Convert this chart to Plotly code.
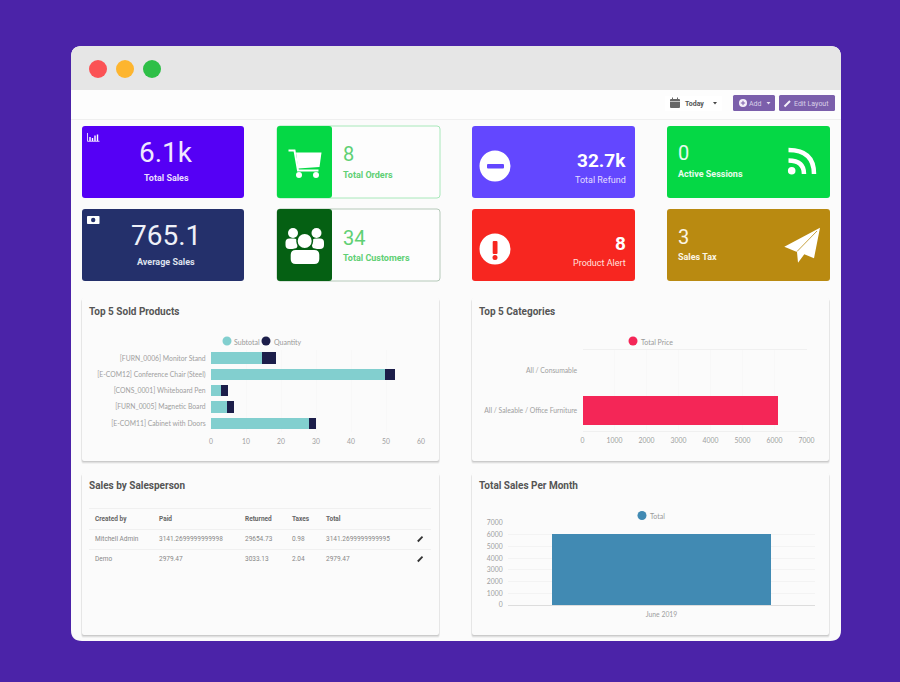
import plotly.graph_objects as go

# chart data
product_names = ["[FURN_0006] Monitor Stand", "[E-COM12] Conference Chair (Steel)", "[CONS_0001] Whiteboard Pen",
                 "[FURN_0005] Magnetic Board", "[E-COM11] Cabinet with Doors"]
product_subtotal = [14.7, 49.6, 2.8, 4.7, 28]
product_quantity = [4, 3, 2, 2, 2]
category_names = ["All / Consumable", "All / Saleable / Office Furniture"]
category_totals = [0, 6120]
month_names = ["June 2019"]
month_totals = [6090]

# table
table_headers = ["Created by", "Paid", "Returned", "Taxes", "Total"]
table_row_1 = ["Mitchell Admin", "3141.2699999999998", "29654.73", "0.98", "3141.2699999999995"]
table_row_2 = ["Demo", "2979.47", "3033.13", "2.04", "2979.47"]
table_cols = [95, 159, 245, 292, 326]

W, H = 900, 682
shapes = []
notes = []


def rrect(x0, y0, x1, y1, r=3):
    return (f"M {x0+r} {y0} L {x1-r} {y0} Q {x1} {y0} {x1} {y0+r} L {x1} {y1-r} Q {x1} {y1} {x1-r} {y1} "
            f"L {x0+r} {y1} Q {x0} {y1} {x0} {y1-r} L {x0} {y0+r} Q {x0} {y0} {x0+r} {y0} Z")


def path(d, fill="rgba(0,0,0,0)", line=None, width=0):
    shapes.append(dict(type="path", path=d, xref="x", yref="y", fillcolor=fill, layer="below",
                       line=dict(color=line or "rgba(0,0,0,0)", width=width)))


def circle(cx, cy, r, fill):
    shapes.append(dict(type="circle", x0=cx-r, x1=cx+r, y0=cy-r, y1=cy+r, xref="x", yref="y",
                       fillcolor=fill, line=dict(width=0), layer="below"))


def text(x, y, s, size=9, color="#fff", bold=False, anchor="left", family="Roboto"):
    # annotations keep about 2px of padding around their text
    shift = {"left": -2, "right": 2, "center": 0}[anchor]
    notes.append(dict(x=x, y=y, text=s, xref="x", yref="y", showarrow=False, xanchor=anchor, yanchor="middle",
                      xshift=shift, font=dict(size=size, color=color, family=family, weight=700 if bold else 400)))


# page and window
path(f"M 0 0 L {W} 0 L {W} {H} L 0 {H} Z", fill="#4b23a8")
path(rrect(71, 46, 841, 641, 11), fill="#fbfbfb")
path("M 71 90 L 71 57 Q 71 46 82 46 L 830 46 Q 841 46 841 57 L 841 90 Z", fill="#e6e6e6")
path("M 71 90 L 841 90 L 841 119 L 71 119 Z", fill="#fdfdfd")
path("M 71 119.5 L 841 119.5", line="#efefef", width=1)
for cx, col in zip([98, 125, 152], ["#fb5255", "#fdb52f", "#2ebf47"]):
    circle(cx, 69, 9, col)

# toolbar
path(rrect(665, 96, 722, 111, 1), fill="#ffffff")
path(rrect(670, 99, 680, 108, 1), fill="#666666")
path("M 670 101.5 L 680 101.5", line="#ffffff", width=0.6)
path("M 672.5 97.5 L 672.5 99.5 M 677.5 97.5 L 677.5 99.5", line="#666666", width=1)
text(685, 103.5, "Today", 7, "#555555", True)
path("M 713 102 L 717 102 L 715 104.5 Z", fill="#444444")
path(rrect(733, 95, 775, 111, 1.5), fill="#7b5fab")
path(rrect(779, 95, 835, 111, 1.5), fill="#7b5fab")
circle(743, 103, 4, "#f4f0fa")
path("M 740.8 103 L 745.2 103 M 743 100.8 L 743 105.2", line="#7b5fab", width=1)
text(749, 103.5, "Add", 7, "#d8cfe8")
path("M 766.5 102 L 770.5 102 L 768.5 104.5 Z", fill="#e9e2f3")
path("M 784.5 106.5 L 790 101", line="#f4f0fa", width=2)
text(794, 103.5, "Edit Layout", 7, "#d8cfe8")

# stat cards
path(rrect(82, 126, 244, 198), fill="#5500f5")
text(166, 152, "6.1k", 28, "#f0e8ff", anchor="center")
text(166, 178, "Total Sales", 9, "#eadfff", True, "center")
path("M 87.5 133 L 87.5 141.3 L 99.5 141.3", line="#ffffff", width=0.8)
path("M 90 141 L 90 137 M 92.5 141 L 92.5 138 M 95 141 L 95 135.5 M 97.5 141 L 97.5 134.5", line="#ffffff", width=1.4)

path(rrect(82, 209, 244, 281), fill="#24306b")
text(166, 235, "765.1", 28, "#eef0f8", anchor="center")
text(166, 262, "Average Sales", 9, "#dfe2ee", True, "center")
path(rrect(87, 216, 99.5, 224, 0.8), fill="#ffffff")
circle(93.2, 220, 2.2, "#24306b")

for y0, col in [(126, "#a8e8ba"), (209, "#b5c9b9")]:
    path(rrect(277, y0, 440, y0+72), fill="#fdfdfd", line=col, width=1)
path(rrect(277, 126, 332, 198), fill="#05d845")
path(rrect(277, 209, 332, 281), fill="#056013")
text(343, 154, "8", 20, "#5fd074")
text(343, 175, "Total Orders", 9, "#5fd074", True)
text(343, 238, "34", 20, "#5fd074")
text(343, 258, "Total Customers", 9, "#5fd074", True)
# cart
path("M 288.5 150.5 L 294.5 150.5 L 298 170.5 L 318.5 170.5", line="#ffffff", width=2)
path("M 296 152.5 L 321.5 152.5 L 319.5 167 L 298 168.5 Z", fill="#ffffff")
circle(299, 175, 3, "#ffffff")
circle(316, 175, 3, "#ffffff")
# customers
circle(293, 233, 5, "#ffffff")
circle(316.5, 233, 5, "#ffffff")
path(rrect(285.5, 238.5, 297.5, 249, 4), fill="#ffffff")
path(rrect(312, 238.5, 324, 249, 4), fill="#ffffff")
circle(304.7, 241, 8.5, "#056013")
circle(304.7, 241, 7, "#ffffff")
path(rrect(289, 248.5, 320.5, 265.5, 6), fill="#056013")
path(rrect(290.7, 250, 319.3, 264, 5), fill="#ffffff")

path(rrect(472, 126, 635, 198), fill="#6347ff")
circle(495, 166, 15.5, "#ffffff")
path(rrect(487, 164, 504, 168.5, 1), fill="#6347ff")
text(626, 160, "32.7k", 19, "#ffffff", True, "right")
text(626, 180, "Total Refund", 9, "#e3deff", anchor="right")

path(rrect(472, 209, 635, 281), fill="#f72620")
circle(495, 249, 15.5, "#ffffff")
path(rrect(492.7, 241, 497.5, 254, 1), fill="#f72620")
circle(495, 257.5, 2.5, "#f72620")
text(626, 243, "8", 19, "#ffffff", True, "right")
text(626, 263, "Product Alert", 9, "#ffe1df", anchor="right")

path(rrect(667, 126, 830, 198), fill="#05d845")
text(678, 153, "0", 20, "#e8fbee")
text(678, 174, "Active Sessions", 9, "#e8fbee", True)
circle(791.7, 170.7, 3.8, "#ffffff")
path("M 788.5 150 Q 814 150 814 174", line="#ffffff", width=4.5)
path("M 788.5 160.5 Q 804 160.5 804 174", line="#ffffff", width=4.5)

path(rrect(667, 209, 830, 281), fill="#b98a11")
text(678, 237, "3", 20, "#fbf5e6")
text(678, 257, "Sales Tax", 9, "#fbf5e6", True)
path("M 820 227.7 L 784.3 246.7 L 797 252 L 798 262.7 L 804.3 254.3 L 814 258.3 Z", fill="#ffffff")
path("M 817 231 L 797 251.5", line="#b98a11", width=0.8)

# panels
for x0, x1, y0, y1 in [(82, 439, 297, 461), (472, 829, 297, 461), (82, 439, 472, 635), (472, 829, 472, 635)]:
    for off, alpha in [(3, 0.04), (2, 0.07), (1, 0.09)]:
        path(rrect(x0-off/4, y0+off, x1+off/4, y1+off, 2), fill=f"rgba(0,0,0,{alpha})")
    path(rrect(x0, y0, x1, y1, 2), fill="#fbfbfb")

heading = dict(size=10, color="#555555", bold=True)
text(89, 311, "Top 5 Sold Products", **heading)
text(479, 311, "Top 5 Categories", **heading)
text(89, 485.5, "Sales by Salesperson", **heading)
text(479, 485.5, "Total Sales Per Month", **heading)

# legends
SUBTOTAL, QUANTITY, PINK, BLUE = "#82cfcf", "#1c1e4a", "#f42657", "#418ab3"
legend_font = dict(size=7, color="#999999", family="Lato")
circle(227, 341, 4.5, SUBTOTAL)
text(234, 341.5, "Subtotal", **legend_font)
circle(266, 341, 4.5, QUANTITY)
text(273.5, 341.5, "Quantity", **legend_font)
circle(633, 341, 4.5, PINK)
text(641, 341.5, "Total Price", **legend_font)
circle(642, 515.5, 4.5, BLUE)
text(649.5, 515.5, "Total", **legend_font)

# table
for y in [508.5, 529.5, 549.5]:
    path(f"M 89 {y} L 431 {y}", line="#f0f0f0", width=1)
for x, h, r1, r2 in zip(table_cols, table_headers, table_row_1, table_row_2):
    text(x, 518.5, h, 6.5, "#666666", True)
    text(x, 539, r1, 6.5, "#888888")
    text(x, 559, r2, 6.5, "#888888")
for y in [539, 559]:
    path(f"M 417.8 {y+2.5} L 422.5 {y-2.3}", line="#333333", width=1.8)

fig = go.Figure()
# full page axis used for the card shapes
fig.update_layout(xaxis=dict(domain=[0, 1], range=[0, W], visible=False, fixedrange=True),
                  yaxis=dict(domain=[0, 1], range=[H, 0], visible=False, fixedrange=True))

fig.add_trace(go.Bar(y=product_names, x=product_subtotal, orientation="h", marker_color=SUBTOTAL,
                     marker_line_width=0, xaxis="x2", yaxis="y2", name="Subtotal"))
fig.add_trace(go.Bar(y=product_names, x=product_quantity, orientation="h", marker_color=QUANTITY,
                     marker_line_width=0, xaxis="x2", yaxis="y2", name="Quantity"))
fig.add_trace(go.Bar(y=category_names, x=category_totals, orientation="h", marker_color=PINK,
                     marker_line_width=0, xaxis="x3", yaxis="y3", name="Total Price", width=0.72))
fig.add_trace(go.Bar(x=month_names, y=month_totals, marker_color=BLUE,
                     marker_line_width=0, xaxis="x4", yaxis="y4", name="Total", width=0.716))


def dom_x(a, b):
    return [a / W, b / W]


def dom_y(top, bottom):
    return [1 - bottom / H, 1 - top / H]


tick_font = dict(size=6.8, color="#a0a0a0", family="Lato")
grid = "#f8f8f8"
common_x = dict(gridcolor=grid, zeroline=False, tickfont=tick_font, ticklen=3, tickcolor="rgba(0,0,0,0)", fixedrange=True)
common_y = dict(zeroline=False, tickfont=tick_font, ticklen=3, tickcolor="rgba(0,0,0,0)", fixedrange=True)

fig.update_layout(
    template="none",
    width=W, height=H, margin=dict(l=0, r=0, t=0, b=0, autoexpand=False), autosize=False,
    paper_bgcolor="#4b23a8", plot_bgcolor="rgba(0,0,0,0)", showlegend=False,
    barmode="stack", bargap=0.3, hovermode=False,
    shapes=shapes, annotations=notes,
    xaxis2=dict(domain=dom_x(211, 421), range=[0, 60], dtick=10, anchor="y2", **common_x),
    yaxis2=dict(domain=dom_y(350, 431.5), range=[4.5, -0.5], type="category", anchor="x2",
                categoryorder="array", categoryarray=product_names, showgrid=False, **common_y),
    xaxis3=dict(domain=dom_x(582.5, 806.5), range=[0, 7000], dtick=1000, anchor="y3",
                showline=True, mirror=True, linecolor="#f0f0f0", linewidth=1, **common_x),
    yaxis3=dict(domain=dom_y(350, 431), range=[1.5, -0.5], type="category", anchor="x3",
                categoryorder="array", categoryarray=category_names, showgrid=False, **common_y),
    xaxis4=dict(domain=dom_x(508, 815), type="category", anchor="y4", showgrid=False,
                showline=True, linecolor="#dddddd", linewidth=1, **{k: v for k, v in common_x.items() if k != "gridcolor"}),
    yaxis4=dict(domain=dom_y(523, 605), range=[0, 7000], dtick=1000, anchor="x4", gridcolor="#f3f3f3", **common_y),
)

fig.write_html("out.html", config={"displayModeBar": False},
               post_script="document.body.style.margin='0';document.body.style.overflow='hidden';")
